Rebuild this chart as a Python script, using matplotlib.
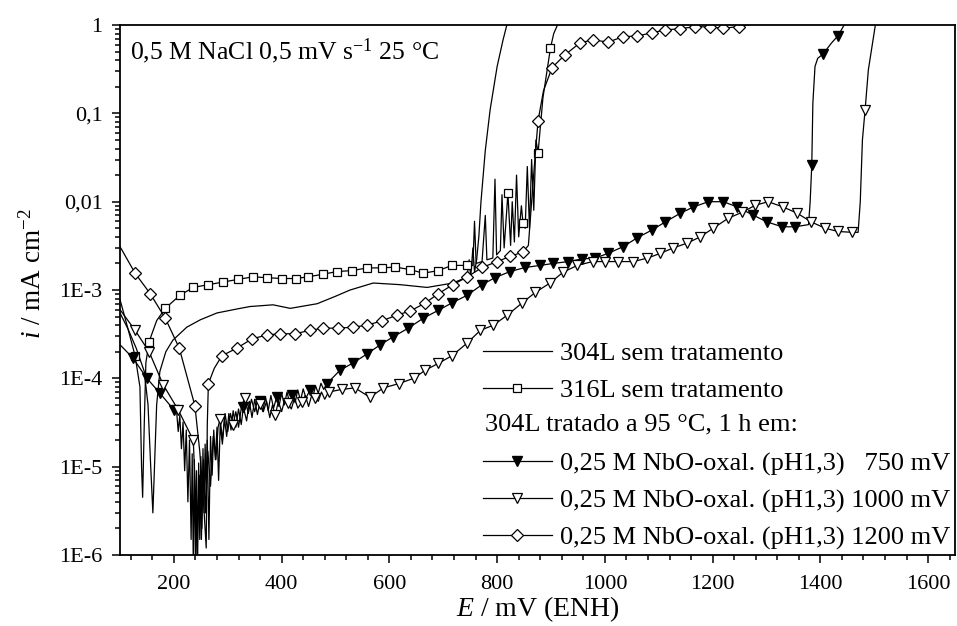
import numpy as np
import matplotlib
matplotlib.use("Agg")
import matplotlib.pyplot as plt
from matplotlib.lines import Line2D
from matplotlib.ticker import FixedLocator, FixedFormatter, MultipleLocator, LogLocator, NullFormatter

# ---- data (E in mV vs ENH, i in mA cm-2) ----
# 304L sem tratamento (plain line)
e_304 = [100, 115, 130, 145, 152, 157, 161, 164, 168, 174, 185, 198, 224, 249, 280, 317, 341,
         384, 416, 466, 500, 527, 570, 620, 670, 718, 744, 748, 751, 755, 758, 762, 766, 770,
         778, 787, 800, 811, 818]
i_304 = [5.5e-4, 3.6e-4, 2.2e-4, 1.2e-4, 5e-5, 1e-5, 3e-6, 1e-5, 5e-5, 1.2e-4, 2e-4, 2.7e-4,
         3.8e-4, 4.6e-4, 5.5e-4, 6.1e-4, 6.5e-4, 6.8e-4, 6.2e-4, 7e-4, 8.5e-4, 1e-3, 1.2e-3,
         1.15e-3, 1.07e-3, 1.2e-3, 1.4e-3, 2.2e-3, 1.4e-3, 3e-3, 1.6e-3, 2.2e-3, 4e-3, 0.01,
         0.038, 0.11, 0.34, 0.68, 1.0]

# 316L sem tratamento (squares)
e_316 = [128, 154, 184, 211, 236, 264, 291, 319, 347, 372, 400, 426, 449, 477, 503, 531, 559,
         587, 611, 639, 663, 691, 716, 744, 820, 848, 876, 899]
i_316 = [1.8e-4, 2.6e-4, 6.2e-4, 8.7e-4, 1.07e-3, 1.15e-3, 1.23e-3, 1.32e-3, 1.41e-3, 1.38e-3,
         1.35e-3, 1.35e-3, 1.41e-3, 1.51e-3, 1.62e-3, 1.66e-3, 1.78e-3, 1.78e-3, 1.82e-3,
         1.70e-3, 1.55e-3, 1.66e-3, 1.9e-3, 1.9e-3, 0.0125, 5.7e-3, 0.036, 0.55]
e_316_tr = [100, 115, 137, 140, 142, 145, 148, 168, 755, 758, 761, 772, 778, 781, 792, 796, 799,
            806, 809, 813, 825, 828, 832, 836, 840, 845, 852, 856, 860, 864, 868, 872, 885, 905, 912]
i_316_tr = [7.8e-4, 3.6e-4, 8e-5, 1e-5, 4.5e-6, 3e-5, 1.5e-4, 4.5e-4, 1.9e-3, 6e-3, 2e-3, 2.1e-3,
            7e-3, 2.2e-3, 2.3e-3, 0.018, 2.5e-3, 2.8e-3, 0.012, 3e-3, 3.2e-3, 0.01, 3.5e-3, 0.02,
            4e-3, 9e-3, 5e-3, 0.025, 5e-3, 0.03, 8e-3, 0.05, 0.15, 0.8, 1.0]

# 304L tratado, 750 mV (filled down triangles)
e_750 = [124, 150, 174, 200, 329, 360, 391, 420, 453, 484, 508, 533, 559, 583, 607, 635, 663,
         691, 717, 744, 772, 796, 824, 852, 880, 904, 932, 958, 982, 1006, 1034, 1060, 1088,
         1112, 1140, 1164, 1192, 1220, 1246, 1274, 1301, 1329, 1353, 1384, 1405, 1433]
i_750 = [1.7e-4, 1e-4, 6.8e-5, 4.4e-5, 4.7e-5, 5.5e-5, 6.2e-5, 6.5e-5, 7.4e-5, 8.7e-5, 1.23e-4,
         1.5e-4, 1.9e-4, 2.4e-4, 2.95e-4, 3.7e-4, 4.8e-4, 5.9e-4, 7.2e-4, 8.7e-4, 1.15e-3,
         1.38e-3, 1.62e-3, 1.8e-3, 1.9e-3, 2e-3, 2.1e-3, 2.25e-3, 2.3e-3, 2.6e-3, 3.1e-3,
         3.9e-3, 4.8e-3, 5.9e-3, 7.4e-3, 8.7e-3, 0.01, 0.01, 8.7e-3, 7.1e-3, 5.9e-3, 5.2e-3,
         5.2e-3, 0.026, 0.47, 0.76]
e_750_tr = [100, 205, 208, 211, 214, 217, 220, 223, 226, 229, 232, 234, 236, 238, 240, 242, 244,
            246, 248, 250, 252, 254, 256, 258, 260, 262, 265, 268, 271, 274, 277, 280, 283, 286,
            290, 294, 298, 302, 306, 310, 315, 320, 325, 335, 340, 345, 350, 355, 365, 370, 375,
            380, 385, 395, 400, 405, 410, 415, 425, 430, 435, 440, 445, 458, 463, 468, 473, 478,
            1378, 1381, 1386, 1390, 1395, 1420, 1444]
i_750_tr = [2.4e-4, 4.3e-5, 2.5e-5, 3.8e-5, 1.6e-5, 3.2e-5, 9e-6, 2.6e-5, 4e-6, 2e-5, 1.5e-6,
            1.4e-5, 8e-7, 1.2e-5, 8e-7, 9e-6, 8e-7, 1.1e-5, 1.5e-6, 1.3e-5, 2e-6, 1.6e-5, 3e-6,
            1.8e-5, 5e-6, 2e-5, 1.5e-6, 2.2e-5, 8e-6, 2.6e-5, 1.2e-5, 2.8e-5, 7e-6, 3e-5, 1.8e-5,
            3.5e-5, 2.2e-5, 4e-5, 2.6e-5, 4.3e-5, 2.8e-5, 4.5e-5, 3e-5, 3.3e-5, 5.5e-5, 3.6e-5,
            5.8e-5, 3.9e-5, 4.2e-5, 6.2e-5, 4.3e-5, 6.4e-5, 4.6e-5, 4.8e-5, 6.8e-5, 5e-5, 7e-5,
            5.2e-5, 5.3e-5, 7.4e-5, 5.6e-5, 7.6e-5, 6e-5, 6.2e-5, 8.2e-5, 6.8e-5, 8.8e-5, 7.5e-5,
            5.5e-3, 0.01, 0.13, 0.34, 0.42, 0.62, 1.0]

# 304L tratado, 1000 mV (open down triangles)
e_1000 = [128, 154, 180, 208, 236, 286, 310, 332, 360, 388, 412, 438, 462, 487, 512, 536, 564,
          589, 617, 645, 666, 691, 716, 744, 769, 793, 819, 847, 871, 898, 923, 949, 977, 1001,
          1025, 1053, 1079, 1103, 1127, 1153, 1177, 1201, 1229, 1255, 1279, 1303, 1331, 1357,
          1383, 1409, 1433, 1459, 1483]
i_1000 = [3.5e-4, 2e-4, 8.5e-5, 4.4e-5, 2e-5, 3.5e-5, 3e-5, 6e-5, 5.1e-5, 3.8e-5, 5.2e-5, 5.4e-5,
          6e-5, 7e-5, 7.5e-5, 7.8e-5, 6.1e-5, 7.8e-5, 8.7e-5, 1e-4, 1.23e-4, 1.48e-4, 1.8e-4,
          2.5e-4, 3.5e-4, 4e-4, 5.2e-4, 7.2e-4, 9.4e-4, 1.2e-3, 1.6e-3, 1.9e-3, 2.1e-3, 2.1e-3,
          2.1e-3, 2.1e-3, 2.3e-3, 2.6e-3, 3e-3, 3.4e-3, 4e-3, 5e-3, 6.5e-3, 7.6e-3, 9.1e-3, 0.01,
          8.7e-3, 7.4e-3, 5.9e-3, 5e-3, 4.6e-3, 4.5e-3, 0.11]
e_1000_tr = [100, 240, 243, 247, 251, 255, 259, 263, 268, 273, 278, 282, 290, 295, 300, 305, 315,
             320, 326, 338, 344, 350, 355, 366, 372, 378, 383, 394, 400, 406, 418, 424, 430, 444,
             450, 456, 468, 474, 480, 1470, 1474, 1478, 1489, 1502]
i_1000_tr = [6e-4, 5e-6, 1e-6, 8e-6, 1.5e-6, 1.2e-5, 3e-6, 1.5e-5, 6e-6, 2.2e-5, 1.2e-5, 2.8e-5,
             2e-5, 4e-5, 2.5e-5, 4e-5, 4.2e-5, 2.8e-5, 5e-5, 4e-5, 5.8e-5, 4.2e-5, 5.6e-5, 4.2e-5,
             5.5e-5, 3.6e-5, 5e-5, 5.5e-5, 4.2e-5, 5.8e-5, 4.5e-5, 6e-5, 4.6e-5, 6.4e-5, 4.8e-5,
             6.5e-5, 5.5e-5, 7e-5, 5.8e-5, 4.5e-3, 0.01, 0.05, 0.31, 1.0]

# 304L tratado, 1200 mV (open diamonds)
e_1200 = [128, 156, 184, 210, 239, 264, 289, 317, 345, 373, 397, 425, 453, 477, 505, 533, 559,
          587, 614, 639, 666, 691, 718, 744, 772, 800, 824, 848, 876, 902, 926, 954, 978, 1006,
          1034, 1060, 1088, 1112, 1140, 1168, 1196, 1220, 1248]
i_1200 = [1.55e-3, 9.1e-4, 4.8e-4, 2.2e-4, 4.9e-5, 8.7e-5, 1.8e-4, 2.2e-4, 2.8e-4, 3.1e-4, 3.2e-4,
          3.2e-4, 3.5e-4, 3.7e-4, 3.7e-4, 3.8e-4, 4e-4, 4.5e-4, 5.2e-4, 5.8e-4, 7.1e-4, 9.1e-4,
          1.15e-3, 1.4e-3, 1.8e-3, 2.1e-3, 2.4e-3, 2.7e-3, 0.083, 0.33, 0.46, 0.63, 0.68, 0.64,
          0.74, 0.75, 0.82, 0.88, 0.91, 0.96, 0.95, 0.92, 0.96]
e_1200_tr = [100, 248, 255, 260, 262, 275, 858, 864, 870, 886, 1265]
i_1200_tr = [3.1e-3, 1.5e-5, 4e-6, 1.2e-6, 3e-5, 1.3e-4, 3.2e-3, 0.01, 0.03, 0.18, 1.0]

yticks = [1e-6, 1e-5, 1e-4, 1e-3, 1e-2, 1e-1, 1]
ylabels = ["1E-6", "1E-5", "1E-4", "1E-3", "0,01", "0,1", "1"]
xticks = [200, 400, 600, 800, 1000, 1200, 1400, 1600]

labels = ["304L sem tratamento", "316L sem tratamento",
          "0,25 M NbO-oxal. (pH1,3)   750 mV",
          "0,25 M NbO-oxal. (pH1,3) 1000 mV",
          "0,25 M NbO-oxal. (pH1,3) 1200 mV"]

plt.rcParams['font.family'] = ['Liberation Serif', 'DejaVu Serif']
plt.rcParams['mathtext.fontset'] = 'custom'
plt.rcParams['mathtext.rm'] = 'Liberation Serif'
plt.rcParams['mathtext.it'] = 'Liberation Serif:italic'


def merged(e_mk, i_mk, e_tr, i_tr):
    e = np.concatenate([e_mk, e_tr])
    i = np.concatenate([i_mk, i_tr])
    o = np.argsort(e, kind='stable')
    return e[o], i[o]


fig = plt.figure(figsize=(9.57, 6.26), dpi=100)
ax = fig.add_axes([0.1254, 0.1134, 0.8726, 0.8466])

lw = 0.9
mk = dict(ls='none', mfc='white', mec='k', mew=0.9)

ax.plot(e_304, i_304, color='k', lw=lw)

e, i = merged(e_316, i_316, e_316_tr, i_316_tr)
ax.plot(e, i, color='k', lw=lw)
ax.plot(e_316, i_316, marker='s', ms=5.5, **mk)

e, i = merged(e_750, i_750, e_750_tr, i_750_tr)
ax.plot(e, i, color='k', lw=lw)
ax.plot(e_750, i_750, ls='none', marker='v', ms=6.5, mfc='k', mec='k')

e, i = merged(e_1000, i_1000, e_1000_tr, i_1000_tr)
ax.plot(e, i, color='k', lw=lw)
ax.plot(e_1000, i_1000, marker='v', ms=6.5, **mk)

e, i = merged(e_1200, i_1200, e_1200_tr, i_1200_tr)
ax.plot(e, i, color='k', lw=lw)
ax.plot(e_1200, i_1200, marker='D', ms=6.5, **mk)

ax.set_yscale('log')
ax.set_xlim(100, 1650)
ax.set_ylim(1e-6, 1)

ax.yaxis.set_major_locator(FixedLocator(yticks))
ax.yaxis.set_major_formatter(FixedFormatter(ylabels))
ax.yaxis.set_minor_locator(LogLocator(base=10, subs=np.arange(2, 10), numticks=20))
ax.yaxis.set_minor_formatter(NullFormatter())
ax.xaxis.set_major_locator(FixedLocator(xticks))
ax.xaxis.set_minor_locator(MultipleLocator(40))
ax.tick_params(which='both', direction='out', top=False, right=False, labelsize=16, width=1.1)
ax.tick_params(which='major', length=6)
ax.tick_params(axis='x', which='major', pad=8.5)
ax.tick_params(axis='y', which='major', pad=6.5)
ax.tick_params(which='minor', length=3.5)
for s in ax.spines.values():
    s.set_linewidth(1.3)

ax.set_xlabel("$E$ / mV (ENH)", fontsize=20, labelpad=0)
ax.set_ylabel("$i$ / mA cm$^{-2}$", fontsize=19.5)
ax.yaxis.set_label_coords(-0.088, 0.53)

ax.text(0.012, 0.95, "0,5 M NaCl 0,5 mV s$^{-1}$ 25 °C", transform=ax.transAxes,
        fontsize=18.5, va='center', ha='left')

hstyle = dict(color='k', lw=lw)
handles = [Line2D([], [], **hstyle),
           Line2D([], [], marker='s', ms=5.5, mfc='white', mec='k', mew=0.9, **hstyle),
           Line2D([], [], ls='none'),
           Line2D([], [], marker='v', ms=6.5, mfc='k', mec='k', **hstyle),
           Line2D([], [], marker='v', ms=6.5, mfc='white', mec='k', mew=0.9, **hstyle),
           Line2D([], [], marker='D', ms=6.5, mfc='white', mec='k', mew=0.9, **hstyle)]
leg_labels = [labels[0], labels[1], " ", labels[2], labels[3], labels[4]]
leg = ax.legend(handles, leg_labels, loc='lower right', bbox_to_anchor=(1.0, 0.0),
                frameon=False, fontsize=19, handlelength=2.6, handletextpad=0.3,
                labelspacing=0.5, borderpad=0.1, borderaxespad=0.1, numpoints=1)
ax.text(0.437, 0.247, "304L tratado a 95 °C, 1 h em:", transform=ax.transAxes,
        fontsize=19, va='center', ha='left')

fig.savefig("out.png", dpi=100)
